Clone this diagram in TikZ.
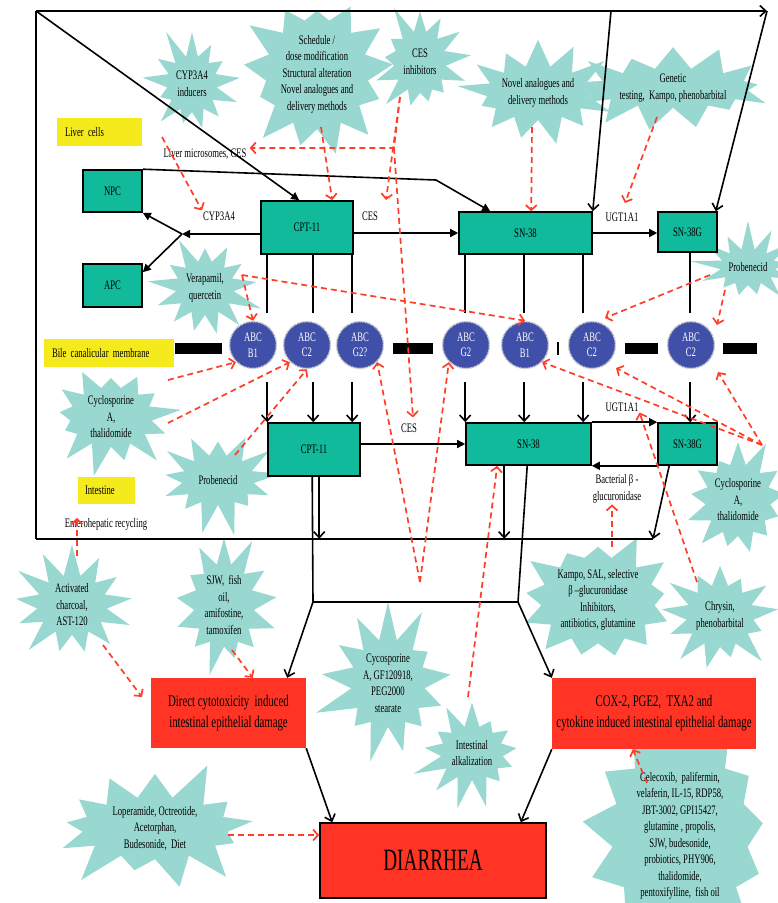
\documentclass[tikz,border=0pt]{standalone}
\usepackage{fontspec}
\setmainfont{Liberation Serif}[FakeStretch=0.665]
\newfontfamily\diarfont{Liberation Serif}[FakeStretch=0.62]
\usetikzlibrary{shapes.symbols,arrows.meta}
\definecolor{tealbox}{RGB}{16,186,155}
\definecolor{burstc}{RGB}{153,216,208}
\definecolor{redbox}{RGB}{255,52,36}
\definecolor{dred}{RGB}{255,62,42}
\definecolor{ylw}{RGB}{245,234,28}
\definecolor{abcblue}{RGB}{64,80,168}
\newcommand\fsn{\fontsize{13}{16.5}\selectfont}
\newcommand\fsr{\fontsize{16.2}{21}\selectfont}
\newcommand\fsc{\fontsize{13}{15.5}\selectfont}
\begin{document}
\begin{tikzpicture}[x=1pt,y=-1pt,
  burst/.style={starburst, starburst points=13, starburst point height=32pt, fill=burstc, draw=none, inner sep=0pt, align=center, font=\fsn},
  tbox/.style={draw=black, line width=1.6pt, fill=tealbox, inner sep=0pt, font=\fsn},
  rbox/.style={fill=redbox, inner sep=0pt, align=center, font=\fsr},
  ybox/.style={fill=ylw, inner ysep=0pt, align=left, font=\fsn},
  abc/.style={circle, fill=abcblue, draw=gray!35, line width=1.5pt, dash pattern=on 1pt off 0.7pt, minimum size=47pt, inner sep=0pt, align=center, text=white, font=\fsc},
  lbl/.style={inner sep=1pt, font=\fsn},
  ln/.style={draw=black, line width=1.6pt},
  arF/.style={ln, -{Triangle[length=8pt,width=8pt]}},
  arO/.style={ln, -{Straight Barb[length=6pt,width=11pt]}},
  dsh/.style={draw=dred, line width=1.7pt, dash pattern=on 6pt off 4pt, -{Straight Barb[length=5pt,width=11pt]}},
  mbar/.style={fill=black}
]
\useasboundingbox (0,0) rectangle (778,903);
\clip (0,0) rectangle (778,903);
\fill[white] (0,0) rectangle (778,903);

% ---------------- starbursts ----------------
\node[burst, minimum width=114pt, minimum height=120pt, random starburst=11] (bCYPind) at (192,84) {CYP3A4\\inducers};
\node[burst, minimum width=114pt, minimum height=142pt, random starburst=23] (bSched) at (317,74) {Schedule /\\dose modification\\Structural alteration\\Novel analogues and\\delivery methods};
\node[burst, minimum width=116pt, minimum height=126pt, random starburst=5] (bCESinh) at (420,62) {CES\\inhibitors};
\node[burst, minimum width=132pt, minimum height=118pt, random starburst=37] (bNovel) at (538,93) {Novel analogues and\\delivery methods};
\node[burst, minimum width=108pt, minimum height=94pt, random starburst=41] (bGen) at (673,88) {Genetic\\testing,\ \ Kampo, phenobarbital};
\node[burst, minimum width=104pt, minimum height=100pt, random starburst=17] (bProbR) at (748,267) {Probenecid};
\node[burst, minimum width=122pt, minimum height=118pt, random starburst=29] (bVera) at (205,288) {Verapamil,\\quercetin};
\node[burst, minimum width=146pt, minimum height=116pt, random starburst=13] (bCycL) at (111,417) {Cyclosporine\\A,\\thalidomide};
\node[burst, minimum width=136pt, minimum height=114pt, random starburst=19] (bProbL) at (218,480) {Probenecid};
\node[burst, minimum width=126pt, minimum height=136pt, random starburst=31] (bCycR) at (738,500) {Cyclosporine\\A,\\thalidomide};
\node[burst, minimum width=134pt, minimum height=120pt, random starburst=43] (bChar) at (72,605) {Activated\\charcoal,\\AST-120};
\node[burst, minimum width=124pt, minimum height=120pt, random starburst=47] (bSJW) at (224,605) {SJW,\ \ fish\\oil,\\amifostine,\\tamoxifen};
\node[burst, starburst point height=40pt, minimum width=154pt, minimum height=168pt, random starburst=53] (bCyco) at (388,683) {Cycosporine\\A, GF120918,\\PEG2000\\stearate};
\node[burst, minimum width=118pt, minimum height=134pt, random starburst=59] (bKampo) at (598,600) {Kampo, SAL, selective\\β –glucuronidase\\Inhibitors,\\antibiotics,\ glutamine};
\node[burst, minimum width=130pt, minimum height=126pt, random starburst=61] (bChrys) at (720,616) {Chrysin,\\phenobarbital};
\node[burst, minimum width=126pt, minimum height=118pt, random starburst=67] (bAlk) at (472,753) {Intestinal\\alkalization};
\node[burst, starburst point height=40pt, minimum width=226pt, minimum height=124pt, random starburst=71] (bLop) at (155,828) {Loperamide,\ Octreotide,\\Acetorphan,\\Budesonide,\ \ Diet};
\node[burst, starburst point height=42pt, minimum width=220pt, minimum height=176pt, random starburst=73] (bCele) at (680,836) {Celecoxib,\ \ palifermin,\\velaferin, IL-15, RDP58,\\JBT-3002, GPI15427,\\glutamine , propolis,\\SJW, budesonide,\\probiotics, PHY906,\\thalidomide,\\pentoxifylline,\ \ fish oil};

% ---------------- yellow labels ----------------
\node[ybox, text width=69pt, inner xsep=8pt, minimum height=28pt] (liver) at (99.5,132) {Liver cells};
\node[ybox, text width=114pt, inner xsep=8pt, minimum height=28pt] (bile) at (109,353) {Bile canalicular membrane};
\node[ybox, text width=43pt, inner xsep=7pt, minimum height=27pt] (intest) at (106.5,490.5) {Intestine};

% ---------------- boxes ----------------
\node[tbox, minimum width=92pt, minimum height=53pt] (cptA) at (307,227.5) {CPT-11};
\node[tbox, minimum width=133pt, minimum height=42pt] (snA) at (525.5,233) {SN-38};
\node[tbox, minimum width=59pt, minimum height=40pt] (sngA) at (687.5,232) {SN-38G};
\node[tbox, minimum width=59pt, minimum height=42pt] (npc) at (112.5,191) {NPC};
\node[tbox, minimum width=59pt, minimum height=43pt] (apc) at (112.5,285.5) {APC};
\node[tbox, minimum width=92pt, minimum height=53pt] (cptB) at (314,449.5) {CPT-11};
\node[tbox, minimum width=125pt, minimum height=42pt] (snB) at (528.5,444) {SN-38};
\node[tbox, minimum width=59pt, minimum height=42pt] (sngB) at (687.5,444) {SN-38G};

\node[rbox, minimum width=155pt, minimum height=70pt] (direct) at (228.5,713) {Direct cytotoxicity\ \ induced\\intestinal epithelial damage};
\node[rbox, minimum width=204pt, minimum height=71pt] (cox) at (654,713.5) {COX-2, PGE2,\ \ TXA2 and\\cytokine induced intestinal epithelial damage};
\node[rbox, draw=black, line width=1.6pt, minimum width=226pt, minimum height=75pt, font=\diarfont\fontsize{31}{31}\selectfont] (diar) at (433,860.5) {DIARRHEA};

% ---------------- membrane ----------------
\fill[mbar] (175,343) rectangle (222,354);
\fill[mbar] (393,343) rectangle (433,354);
\fill[mbar] (557,342) rectangle (559,355);
\fill[mbar] (625,343) rectangle (658,354);
\fill[mbar] (723,343) rectangle (757,354);

\node[abc] (c1) at (253,345) {ABC\\B1};
\node[abc] (c2) at (307,345) {ABC\\C2};
\node[abc] (c3) at (360,345) {ABC\\G2?};
\node[abc] (c4) at (466,345) {ABC\\G2};
\node[abc] (c5) at (525,345) {ABC\\B1};
\node[abc] (c6) at (592,345) {ABC\\C2};
\node[abc] (c7) at (691,345) {ABC\\C2};

% ---------------- text labels ----------------
\node[lbl] (lmces) at (205,154) {Liver microsomes, CES};
\node[lbl] (cyp) at (219,216) {CYP3A4};
\node[lbl] (cesA) at (370,216) {CES};
\node[lbl] (ugtA) at (622,217) {UGT1A1};
\node[lbl] (cesB) at (409,428) {CES};
\node[lbl] (ugtB) at (622,407) {UGT1A1};
\node[lbl, align=center] (bact) at (617,489) {Bacterial β -\\glucuronidase};
\node[lbl] (entero) at (106,524) {Enterohepatic recycling};

% ---------------- black connectors ----------------
\coordinate (tl) at (36,11);
\coordinate (tr) at (767,11);
\coordinate (bl) at (36,539);
\coordinate (br) at (653,539);
\coordinate (t1) at (611,11);
\coordinate (bend) at (436,180);
\coordinate (j) at (182,234);
\coordinate (jL) at (313,602);
\coordinate (jR) at (518,602);

\draw[ln] (bl) -- (tl);
\draw[arO] (tl) -- (tr);
\draw[ln] (bl) -- (br);
\draw[arF] (tl) -- ([xshift=39pt]cptA.north west);
\draw[arO] (t1) -- (snA.north east);
\draw[arO] (tr) -- ([xshift=-2pt]sngA.north east);
\draw[arF] (npc.north east) -- (bend) -- ([xshift=32pt]snA.north west);
\draw[arF] (cptA.west |- j) -- (j);
\draw[arF] (j) -- (npc.south east);
\draw[arF] (j) -- ([yshift=-9pt]apc.north east);
\draw[arF] (cptA.east |- snA.west) -- (snA.west);
\draw[arF] (snA.east) -- (sngA.west |- snA.east);

\foreach \s in {7,53,92} \draw[ln] ([xshift=\s pt]cptA.south west) -- ++(0,58);
\foreach \s in {7,66,125} \draw[ln] ([xshift=\s pt]snA.south west) -- ++(0,58);
\draw[ln] ([xshift=33pt]sngA.south west) -- ++(0,60);

\foreach \s in {0,46,85} \draw[arO] ([xshift=\s pt]cptB.north west) ++(0,-40) -- ([xshift=\s pt]cptB.north west);
\foreach \s in {0,59,118} \draw[arO] ([xshift=\s pt]snB.north west) ++(0,-40) -- ([xshift=\s pt]snB.north west);
\draw[arO] ([xshift=33pt]sngB.north west) ++(0,-40) -- ([xshift=33pt]sngB.north west);

\draw[arF] (cptB.east |- snB.west) -- (snB.west);
\draw[arF] (snB.north east) -- (sngB.north west);
\draw[arF] (sngB.south west) -- (snB.south east);

\draw[arO] ([xshift=52pt]cptB.south west) -- ++(0,62);
\draw[ln] ([xshift=45pt]cptB.south west) -- (jL);
\draw[arO] ([xshift=39pt]snB.south west) -- ++(0,73);
\draw[ln] ([xshift=62pt]snB.south west) -- (jR);
\draw[ln] (jL) -- (jR);
\draw[arO] (jL) -- ([xshift=-19pt]direct.north east);
\draw[arO] (jR) -- (cox.north west);
\draw[arO] ([xshift=12pt]sngB.south west) -- (br);
\draw[arO] (direct.south east) -- ([xshift=13pt]diar.north west);
\draw[arO] (cox.south west) -- ([xshift=-26pt]diar.north east);

% ---------------- red dashed connectors ----------------
\coordinate (s1) at (162,137);
\coordinate (s2) at (321,127);
\coordinate (s3) at (400,97);
\coordinate (e3a) at (386,200);
\coordinate (e3b) at (394,148);
\coordinate (s4) at (532,127);
\coordinate (s5) at (657,117);
\coordinate (e5) at (625,203);
\coordinate (s6) at (242,275);
\coordinate (s7a) at (168,380);
\coordinate (s7b) at (168,423);
\coordinate (s8) at (235,455);
\coordinate (s9) at (420,582);
\coordinate (s10) at (468,697);
\coordinate (s11) at (612,547);
\coordinate (s12) at (697,582);
\coordinate (s13) at (762,445);
\coordinate (e13b) at (616,368);
\coordinate (e13c) at (718,372);
\coordinate (s14a) at (710,275);
\coordinate (e14a) at (605,318);
\coordinate (s14b) at (725,290);
\coordinate (e14b) at (717,325);
\coordinate (s15a) at (77,556);
\coordinate (e15a) at (77,518);
\coordinate (s15b) at (103,645);
\coordinate (e15b) at (142,697);
\coordinate (s16) at (232,650);
\coordinate (s17) at (228,835);
\coordinate (s18) at (647,783);

\draw[dsh] (s1) -- (cyp.north west);
\draw[dsh] (s2) -- ([xshift=72pt]cptA.north west);
\draw[dsh] (s3) -- (e3a);
\draw[dsh] (s3) -- (e3b) -- ([xshift=2pt,yshift=6pt]lmces.east);
\draw[dsh] (e3b) -- ([xshift=4pt,yshift=5pt]cesB.north);
\draw[dsh] (s4) -- ([xshift=73pt]snA.north west);
\draw[dsh] (s5) -- (e5);
\draw[dsh] (s6) -- (c1.north);
\draw[dsh] (s6) -- (c5.north);
\draw[dsh] (s7a) -- (c1.south west);
\draw[dsh] (s7b) -- (c2.south west);
\draw[dsh] (s8) -- (c2.south);
\draw[dsh] (s9) -- (c3.south east);
\draw[dsh] (s9) -- (c4.south west);
\draw[dsh] (s10) -- ([xshift=32pt]snB.south west);
\draw[dsh] (s11) -- ([xshift=-5pt]bact.south);
\draw[dsh] (s12) -- (ugtB.south east);
\draw[dsh] (s13) -- (c5.south east);
\draw[dsh] (s13) -- (e13b);
\draw[dsh] (s13) -- (e13c);
\draw[dsh] (s14a) -- (e14a);
\draw[dsh] (s14b) -- (e14b);
\draw[dsh] (s15a) -- (e15a);
\draw[dsh] (s15b) -- (e15b);
\draw[dsh] (s16) -- ([xshift=102pt]direct.north west);
\draw[dsh] (s17) -- (s17 -| diar.west);
\draw[dsh] (s18) -- ([xshift=81pt]cox.south west);
\end{tikzpicture}
\end{document}
